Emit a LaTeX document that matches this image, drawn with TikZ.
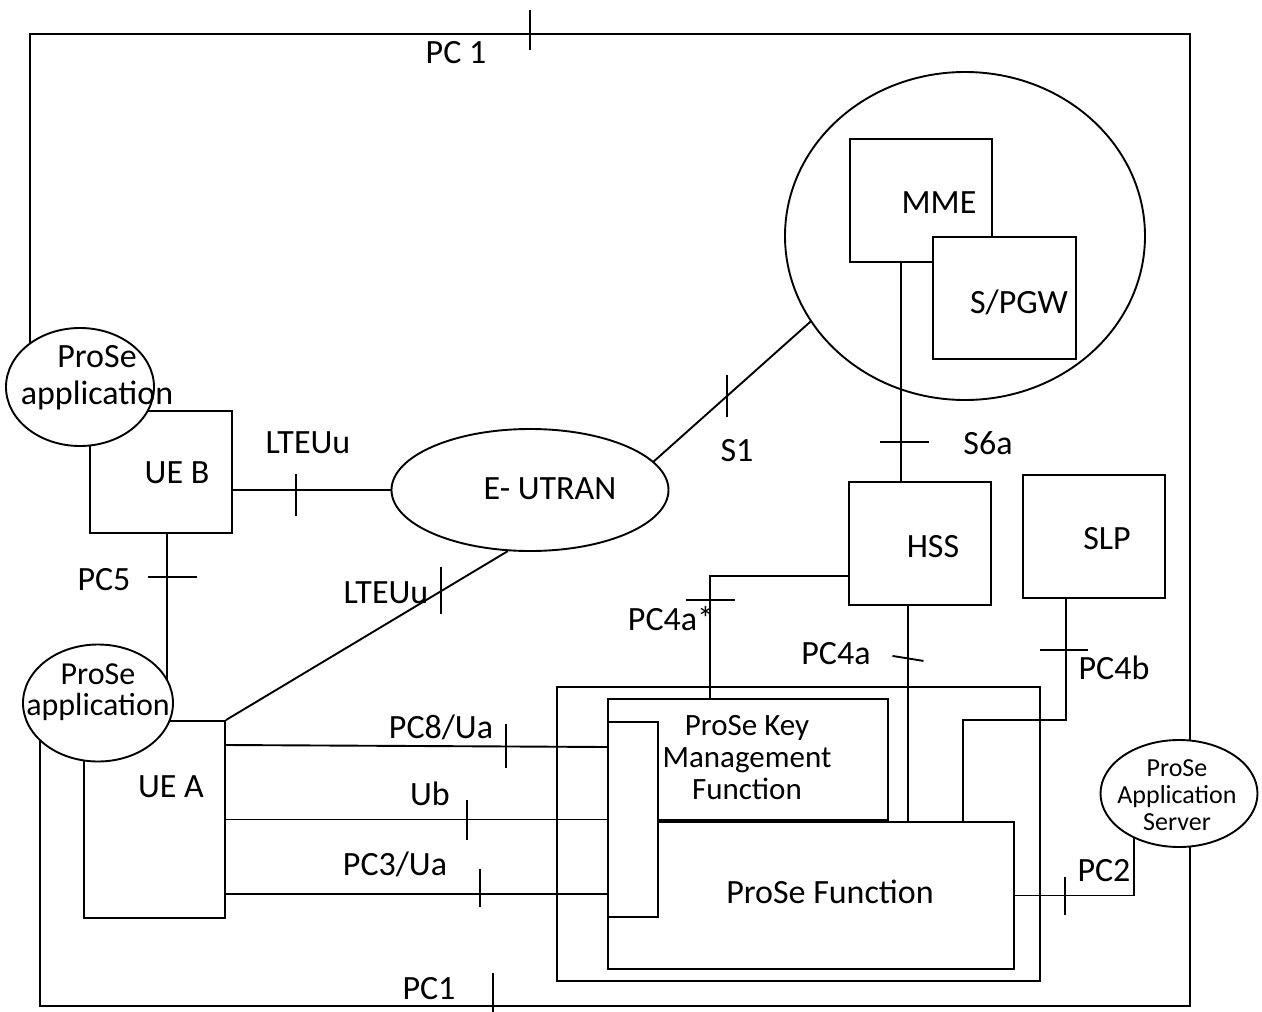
\documentclass[tikz,border=0pt]{standalone}
\usepackage{fontspec}
\setmainfont{Carlito}
\usetikzlibrary{shapes.geometric,backgrounds,calc}
\tikzset{
  box/.style={draw, rectangle, line width=1.9pt, inner sep=0pt},
  oval/.style={draw, ellipse, line width=1.9pt, inner sep=0pt},
  lbl/.style={anchor=base, inner sep=0pt, font=\fontsize{34}{36}\selectfont},
  applbl/.style={anchor=base, inner sep=0pt, font=\fontsize{32}{34}\selectfont},
  kmflbl/.style={anchor=base, inner sep=0pt, font=\fontsize{31}{32}\selectfont},
  aslbl/.style={anchor=base, inner sep=0pt, font=\fontsize{26}{28}\selectfont},
  wire/.style={line width=1.9pt},
}
\newcommand\vtk[3]{\draw[wire] ([yshift=#2]#1) -- ([yshift=-#3]#1);}
\newcommand\htk[3]{\draw[wire] ([xshift=-#2]#1) -- ([xshift=#3]#1);}
\begin{document}
\begin{tikzpicture}[x=1pt,y=-1pt]
\useasboundingbox (0,0) rectangle (1262,1012);
% ---------- nodes ----------
\node[box, minimum width=483pt, minimum height=294pt] (cont) at (798.5,834) {};
\node[box, minimum width=406pt, minimum height=147pt] (pf) at (811,895.5) {};
\node[box, minimum width=280pt, minimum height=121pt] (kmf) at (748,759.5) {};
\node[box, fill=white, minimum width=50pt, minimum height=195pt] (conn) at (633,819.5) {};
\node[box, minimum width=142pt, minimum height=122pt] (ueb) at (161,472) {};
\node[box, minimum width=141pt, minimum height=197pt] (uea) at (154.5,819.5) {};
\node[oval, fill=white, minimum width=148pt, minimum height=118pt] (appb) at (80,387) {};
\node[oval, fill=white, minimum width=150pt, minimum height=117pt] (appa) at (98,703) {};
\node[oval, fill=white, minimum width=277pt, minimum height=122pt] (eutran) at (530,490) {};
\node[oval, minimum width=360pt, minimum height=328pt] (core) at (965,236) {};
\node[box, minimum width=142pt, minimum height=123pt] (mme) at (921,200.5) {};
\node[box, fill=white, minimum width=143pt, minimum height=122pt] (spgw) at (1004.5,298) {};
\node[box, minimum width=142pt, minimum height=123pt] (hss) at (920,543.5) {};
\node[box, minimum width=142pt, minimum height=123pt] (slp) at (1094,536.5) {};
\node[oval, fill=white, minimum width=157pt, minimum height=107pt] (as) at (1179,793.5) {};
\coordinate (tl) at (30,34);
\coordinate (tr) at (1190,34);
\coordinate (bl) at (40,1006);
\coordinate (br) at (1190,1006);
\coordinate (c4b) at (963,720);
% ---------- background wires ----------
\begin{pgfonlayer}{background}
\fill[white] (0,0) rectangle (1262,1012);
\draw[wire] (tl |- appb.center) -- (tl) -- coordinate[pos=0.431] (t1) (tr) -- (br)
   -- coordinate[pos=0.606] (t0) (bl) -- (bl |- appa.center);
\draw[wire] ([xshift=6pt]ueb.south) -- coordinate[pos=0.253] (t3) ([xshift=6pt]ueb.south |- appa.center);
\end{pgfonlayer}
% ---------- wires ----------
\draw[wire] (ueb.east |- eutran.west) -- coordinate[pos=0.40] (t2) (eutran.west);
\draw[wire] (eutran.13) -- coordinate[pos=0.47] (t4) (core.209);
\draw[wire] (uea.north east) -- coordinate[pos=0.763] (t5) (eutran.250);
\draw[wire] ([xshift=-20pt]mme.south) -- coordinate[pos=0.82] (t6) ([xshift=-20pt]mme.south |- hss.north);
\draw[wire] ([xshift=-12pt]hss.south) -- coordinate[pos=0.244] (t7) ([xshift=-12pt]hss.south |- pf.north);
\draw[wire] ([xshift=-28pt]slp.south) -- coordinate[pos=0.418] (t8) ([xshift=-28pt]slp.south |- c4b) -- (c4b) -- (c4b |- pf.north);
\draw[wire] ([yshift=-32.5pt]hss.west) -| coordinate[pos=0.598] (t9) ([xshift=-38pt]kmf.north);
\draw[wire] ([yshift=74.5pt]uea.east) -- coordinate[pos=0.734] (t10) ([yshift=72.5pt]conn.west);
\draw[wire] (uea.east) -- coordinate[pos=0.632] (t11) (conn.west);
\draw[wire] ([yshift=-74.5pt]uea.east) -- coordinate[pos=0.666] (t12) ([yshift=-74.5pt]conn.west);
\draw[wire] (pf.east) -| coordinate[pos=0.21] (t13) (as.225);
% ---------- ticks ----------
\vtk{t1}{24pt}{16pt}
\vtk{t0}{33pt}{7pt}
\vtk{t2}{16pt}{26pt}
\htk{t3}{19pt}{30pt}
\vtk{t4}{21pt}{21pt}
\vtk{t5}{24pt}{23pt}
\htk{t6}{21pt}{28pt}
\draw[wire] ([shift={(-15.5,-2.5)}]t7) -- ([shift={(15.5,2.5)}]t7);
\htk{t8}{26pt}{22pt}
\htk{t9}{24pt}{25pt}
\vtk{t10}{22pt}{22pt}
\vtk{t11}{20pt}{20pt}
\vtk{t12}{25pt}{13pt}
\vtk{t13}{19pt}{19pt}
% ---------- labels ----------
\node[lbl] (lpc1t) at (456,63) {PC 1};
\node[lbl] (lpc1b) at (429,999) {PC1};
\node[lbl] (llteb) at (308,453) {LTEUu};
\node[lbl] (lpc5) at (104,590) {PC5};
\node[lbl] (lltea) at (386,603) {LTEUu};
\node[lbl] (leutran) at (550,499) {E- UTRAN};
\node[lbl] (ls1) at (737,461) {S1};
\node[lbl] (lmme) at (939,213) {MME};
\node[lbl] (lspgw) at (1019,313) {S/PGW};
\node[lbl] (ls6a) at (988,454) {S6a};
\node[lbl] (lhss) at (933,557) {HSS};
\node[lbl] (lslp) at (1107,549) {SLP};
\node[lbl] (lpc4a) at (836,664) {PC4a};
\node[lbl] (lpc4b) at (1114,679) {PC4b};
\node[lbl] (lpc4as) at (671,630) {PC4a*};
\node[lbl] (lpc2) at (1104,881) {PC2};
\node[lbl] (lpc8) at (441,738) {PC8/Ua};
\node[lbl] (lub) at (430,805) {Ub};
\node[lbl] (lpc3) at (395,875) {PC3/Ua};
\node[lbl] (luea) at (171,797) {UE A};
\node[lbl] (lueb) at (177,483) {UE B};
\node[lbl] (lappb1) at (97,367) {ProSe};
\node[lbl] (lappb2) at (97,404) {application};
\node[applbl] (lappa1) at (98,684) {ProSe};
\node[applbl] (lappa2) at (98,715) {application};
\node[kmflbl] (lk1) at (747,735) {ProSe Key};
\node[kmflbl] (lk2) at (747,767) {Management};
\node[kmflbl] (lk3) at (747,799) {Function};
\node[lbl] (lpf) at (830,903) {ProSe Function};
\node[aslbl] (las1) at (1177,776) {ProSe};
\node[aslbl] (las2) at (1177,803) {Application};
\node[aslbl] (las3) at (1177,830) {Server};
\end{tikzpicture}
\end{document}
